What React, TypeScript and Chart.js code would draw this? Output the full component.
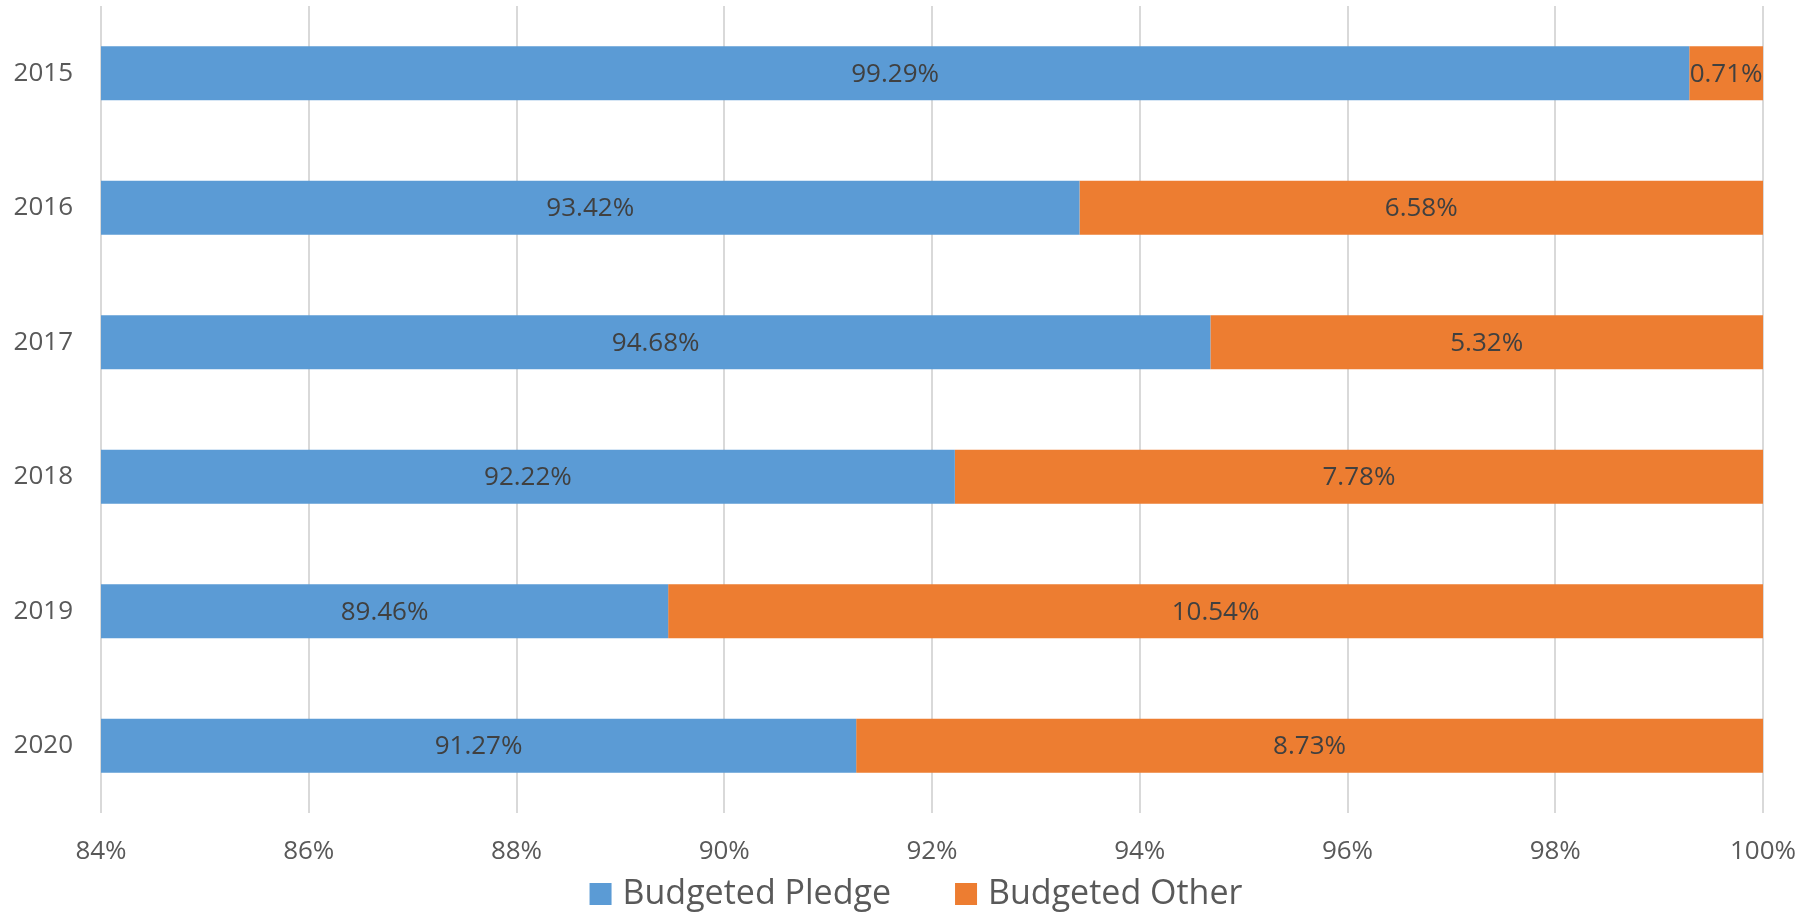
import React, { useEffect, useRef } from "react";
import { Chart, registerables } from "chart.js";

Chart.register(...registerables);

const categories = ["2015", "2016", "2017", "2018", "2019", "2020"];
const budgetedPledge = [99.29, 93.42, 94.68, 92.22, 89.46, 91.27];
const budgetedOther = [0.71, 6.58, 5.32, 7.78, 10.54, 8.73];
const seriesNames = ["Budgeted Pledge", "Budgeted Other"];
const seriesColors = ["#5B9BD5", "#ED7D31"];
const xMin = 84;
const xMax = 100;
const xStep = 2;

const FONT = "'Open Sans', 'Noto Sans', sans-serif";

const dataLabelPlugin = {
  id: "segmentLabels",
  afterDatasetsDraw(chart: any) {
    const { ctx, chartArea } = chart;
    ctx.save();
    ctx.font = `26px ${FONT}`;
    ctx.fillStyle = "#404040";
    ctx.textAlign = "center";
    ctx.textBaseline = "middle";
    chart.data.datasets.forEach((ds: any, di: number) => {
      const meta = chart.getDatasetMeta(di);
      meta.data.forEach((el: any, i: number) => {
        const props = el.getProps(["x", "y", "base"], true);
        const left = Math.max(Math.min(props.x, props.base), chartArea.left);
        const right = Math.min(Math.max(props.x, props.base), chartArea.right);
        const v = ds.data[i] as number;
        ctx.fillText(`${v.toFixed(2)}%`, (left + right) / 2, props.y + 1);
      });
    });
    ctx.restore();
  },
};

// Legend drawn manually to reproduce the wide spacing of the original
const legendPlugin = {
  id: "bottomLegend",
  afterDraw(chart: any) {
    const { ctx, width } = chart;
    const box = 22;
    const textGap = 11;
    const itemGap = 64;
    const cy = 894;
    ctx.save();
    ctx.font = `34px ${FONT}`;
    ctx.textBaseline = "middle";
    ctx.textAlign = "left";
    const items = chart.data.datasets.map((ds: any) => ({
      label: ds.label as string,
      color: ds.backgroundColor as string,
      w: ctx.measureText(ds.label).width,
    }));
    const total =
      items.reduce((s: number, it: any) => s + box + textGap + it.w, 0) +
      itemGap * (items.length - 1);
    let x = width / 2 + 8 - total / 2;
    items.forEach((it: any) => {
      ctx.fillStyle = it.color;
      ctx.fillRect(x, cy - box / 2, box, box);
      x += box + textGap;
      ctx.fillStyle = "#595959";
      ctx.fillText(it.label, x, cy);
      x += it.w + itemGap;
    });
    ctx.restore();
  },
};

export default function App() {
  const canvasRef = useRef<HTMLCanvasElement | null>(null);

  useEffect(() => {
    document.body.style.margin = "0";
    const canvas = canvasRef.current;
    if (!canvas) return;
    const chart = new Chart(canvas, {
      type: "bar",
      data: {
        labels: categories,
        datasets: [
          {
            label: seriesNames[0],
            data: budgetedPledge,
            backgroundColor: seriesColors[0],
            borderWidth: 0,
            categoryPercentage: 0.4,
            barPercentage: 1,
          },
          {
            label: seriesNames[1],
            data: budgetedOther,
            backgroundColor: seriesColors[1],
            borderWidth: 0,
            categoryPercentage: 0.4,
            barPercentage: 1,
          },
        ],
      },
      options: {
        indexAxis: "y",
        animation: false,
        responsive: true,
        maintainAspectRatio: false,
        layout: { padding: { left: 0, right: 53, top: 6, bottom: 0 } },
        scales: {
          x: {
            stacked: true,
            min: xMin,
            max: xMax,
            border: { display: false },
            grid: { color: "#D9D9D9", lineWidth: 2, drawTicks: false },
            ticks: {
              stepSize: xStep,
              padding: 23,
              color: "#595959",
              font: { family: FONT, size: 26 },
              maxRotation: 0,
              autoSkip: false,
              callback: (v: any) => `${v}%`,
            },
            afterFit: (axis: any) => {
              axis.height = 101;
              axis.paddingLeft = 0;
              axis.paddingRight = 0;
            },
          },
          y: {
            stacked: true,
            border: { display: false },
            grid: { display: false, drawTicks: false },
            ticks: {
              padding: 28,
              color: "#595959",
              font: { family: FONT, size: 26 },
            },
            afterFit: (axis: any) => {
              axis.width = 101;
              axis.paddingTop = 0;
              axis.paddingBottom = 0;
            },
          },
        },
        plugins: {
          legend: { display: false },
          tooltip: { enabled: false },
        },
      },
      plugins: [dataLabelPlugin, legendPlugin],
    });
    return () => chart.destroy();
  }, []);

  return (
    <div style={{ width: "1816px", height: "914px", position: "relative" }}>
      <canvas ref={canvasRef} />
    </div>
  );
}
